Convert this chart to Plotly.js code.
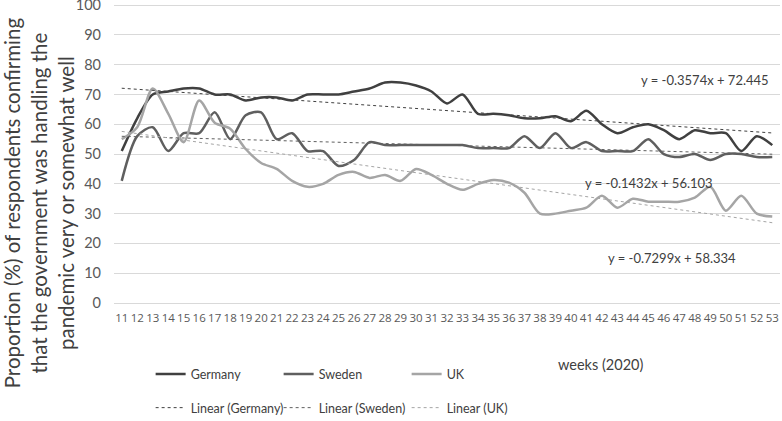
<!DOCTYPE html>
<html><head><meta charset="utf-8">
<script src="https://cdn.plot.ly/plotly-3.0.1.min.js"></script>
<style>html,body{margin:0;padding:0;background:#fff}#chart{width:782px;height:421px}</style>
</head><body><div id="chart"></div>
<script>
var weeks = [11,12,13,14,15,16,17,18,19,20,21,22,23,24,25,26,27,28,29,30,31,32,33,34,35,36,37,38,39,40,41,42,43,44,45,46,47,48,49,50,51,52,53];
var germany = [51,62,70,71,72,72,70,70,68,69,69,68,70,70,70,71,72,74,74,73,71,67,70,63.5,63.5,63,62,62,62.7,61,64.5,60,57,59,60,58,55,58,57,57,51,56,53];
var sweden  = [41,56,59,51,57,57,64,55,63,64,55,57,51,51,46,48,54,53,53,53,53,53,53,52,52,52,56,52,57,52,54,51,51,51,55,50,49,50,48,50,50,49,49];
var uk      = [55,59,72,63.6,54,68,60.5,58.5,51.7,47,45,41,39,40,43,44,42,43,41,45,43,40,38,40,41.3,40.4,37,30,30,31,32,36,32,35,34,34,34,35.4,39,31,36,30,29];
var trendWeeks = [11,53];
var trendGermany = [72.09,57.08];
var trendSweden  = [55.96,49.95];
var trendUK      = [57.60,26.95];
var eqGermany = 'y = -0.3574x + 72.445';
var eqSweden  = 'y = -0.1432x + 56.103';
var eqUK      = 'y = -0.7299x + 58.334';
var yTitle = 'Proportion (%) of respondents confirming<br>that the government was handling the<br>pandemic very or somewhat well';
var xTitle = 'weeks (2020)';
var yTicks = [0,10,20,30,40,50,60,70,80,90,100];

var F = 'Lato, Open Sans, sans-serif';
var F2 = 'Open Sans, Noto Sans, sans-serif';
var traces = [
 {x:weeks,y:germany,name:'Germany',mode:'lines',line:{color:'#404040',width:2.5,shape:'spline',smoothing:0.8},legend:'legend'},
 {x:weeks,y:sweden,name:'Sweden',mode:'lines',line:{color:'#5f5f5f',width:2.5,shape:'spline',smoothing:0.8},legend:'legend'},
 {x:weeks,y:uk,name:'UK',mode:'lines',line:{color:'#a5a5a5',width:2.5,shape:'spline',smoothing:0.8},legend:'legend'},
 {x:trendWeeks,y:trendGermany,name:'Linear (Germany)',mode:'lines',line:{color:'#404040',width:1,dash:'dot'},legend:'legend2'},
 {x:trendWeeks,y:trendSweden,name:'Linear (Sweden)',mode:'lines',line:{color:'#5f5f5f',width:1,dash:'dot'},legend:'legend2'},
 {x:trendWeeks,y:trendUK,name:'Linear (UK)',mode:'lines',line:{color:'#a5a5a5',width:1,dash:'dot'},legend:'legend2'}
];
var legendCommon = {orientation:'h',xanchor:'left',yanchor:'middle',entrywidth:83,entrywidthmode:'pixels',
  font:{family:F,size:12.5,color:'#404040'},bgcolor:'rgba(0,0,0,0)',itemwidth:30,tracegroupgap:0};
var layout = {
  width:782,height:421,
  margin:{l:114,r:2,t:3,b:118,autoexpand:false},
  paper_bgcolor:'#fff',plot_bgcolor:'#fff',
  showlegend:true,
  legend:Object.assign({x:0.055,y:-0.2375},legendCommon),
  legend2:Object.assign({x:0.055,y:-0.35},legendCommon),
  xaxis:{range:[10.5,53.5],tickmode:'array',tickvals:weeks,ticktext:weeks.map(String),
    showgrid:false,zeroline:false,showline:true,linecolor:'#d9d9d9',linewidth:1,ticks:'',
    tickfont:{family:F2,size:11.5,color:'#595959'},tickangle:0,ticklabelstandoff:4,fixedrange:true},
  yaxis:{range:[0,100.7],tickmode:'array',tickvals:yTicks,ticklabeloverflow:'allow',
    showgrid:true,gridcolor:'#d9d9d9',gridwidth:1,zeroline:false,showline:false,ticks:'',
    tickfont:{family:F,size:14.5,color:'#595959'},ticklabelstandoff:12},
  annotations:[
    {xref:'x',yref:'y',x:48.65,y:74.7,text:eqGermany,showarrow:false,font:{family:F,size:13,color:'#404040'}},
    {xref:'x',yref:'y',x:45.05,y:40.3,text:eqSweden,showarrow:false,font:{family:F,size:13,color:'#404040'}},
    {xref:'x',yref:'y',x:46.5,y:15,text:eqUK,showarrow:false,font:{family:F,size:13,color:'#404040'}},
    {xref:'paper',yref:'paper',x:0.73,y:-0.205,text:xTitle,showarrow:false,xanchor:'center',yanchor:'middle',font:{family:F,size:14.5,color:'#404040'}},
    {xref:'paper',yref:'paper',x:-0.113,y:0.335,text:yTitle,textangle:-90,showarrow:false,xanchor:'center',yanchor:'middle',align:'center',font:{family:F,size:20.5,color:'#404040'}}
  ]
};
Plotly.newPlot('chart',traces,layout,{displayModeBar:false,staticPlot:true});
</script></body></html>
